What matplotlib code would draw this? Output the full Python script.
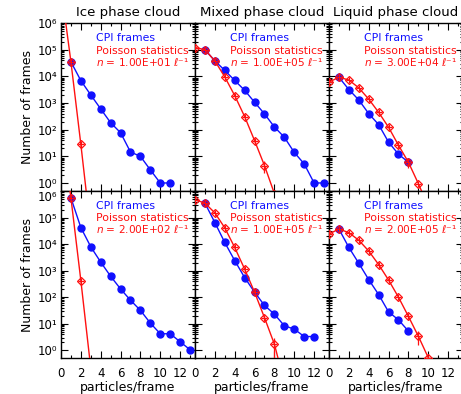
import numpy as np
import matplotlib
matplotlib.use("Agg")
import matplotlib.pyplot as plt
from matplotlib.ticker import FixedLocator, NullFormatter, FuncFormatter

# ---------------- data ----------------
titles = ["Ice phase cloud", "Mixed phase cloud", "Liquid phase cloud"]

# top row
ice_top_cpi_x = [1, 2, 3, 4, 5, 6, 7, 8, 9, 10, 11]
ice_top_cpi_y = [3.5e4, 6.9e3, 2.0e3, 600, 182, 77, 14.5, 10, 3.1, 1.0, 1.0]
ice_top_poi_x = [0, 1, 2, 3]
ice_top_poi_y = [2.2e7, 3.5e4, 28, 0.015]
ice_top_n = "1.00E+01"

mix_top_cpi_x = [1, 2, 3, 4, 5, 6, 7, 8, 9, 10, 11, 12, 13]
mix_top_cpi_y = [1.0e5, 3.8e4, 1.67e4, 7.0e3, 3.0e3, 1.07e3, 390, 126, 52, 14, 5.2, 1.0, 1.0]
mix_top_poi_x = [0, 1, 2, 3, 4, 5, 6, 7, 8]
mix_top_poi_y = [1.2e5, 1.0e5, 3.8e4, 9.5e3, 1.9e3, 310, 39, 4.5, 0.4]
mix_top_n = "1.00E+05"

liq_top_cpi_x = [1, 2, 3, 4, 5, 6, 7, 8]
liq_top_cpi_y = [9.2e3, 3.2e3, 1.3e3, 400, 155, 34, 12, 6]
liq_top_poi_x = [0, 1, 2, 3, 4, 5, 6, 7, 8, 9, 10]
liq_top_poi_y = [6.1e3, 9.2e3, 7.3e3, 3.7e3, 1.4e3, 447, 123, 26, 6, 0.95, 0.13]
liq_top_n = "3.00E+04"

# bottom row
ice_bot_cpi_x = [1, 2, 3, 4, 5, 6, 7, 8, 9, 10, 11, 12, 13]
ice_bot_cpi_y = [5.5e5, 4.2e4, 7.9e3, 2.1e3, 615, 205, 77, 32, 10.6, 4.2, 4.2, 2.1, 1.05]
ice_bot_poi_x = [0, 1, 2, 3]
ice_bot_poi_y = [3.6e8, 5.5e5, 425, 0.21]
ice_bot_n = "2.00E+02"

mix_bot_cpi_x = [1, 2, 3, 4, 5, 6, 7, 8, 9, 10, 11, 12]
mix_bot_cpi_y = [3.5e5, 6.5e4, 1.15e4, 2.4e3, 550, 155, 49, 23, 8.4, 6.3, 3.3, 3.3]
mix_bot_poi_x = [0, 1, 2, 3, 4, 5, 6, 7, 8, 9]
mix_bot_poi_y = [4.7e5, 3.5e5, 1.5e5, 4.1e4, 7.5e3, 1.15e3, 155, 17, 1.7, 0.06]
mix_bot_n = "1.00E+05"

liq_bot_cpi_x = [1, 2, 3, 4, 5, 6, 7, 8]
liq_bot_cpi_y = [3.7e4, 7.5e3, 1.9e3, 460, 126, 28, 14, 5.3]
liq_bot_poi_x = [0, 1, 2, 3, 4, 5, 6, 7, 8, 9, 10, 11]
liq_bot_poi_y = [2.4e4, 3.7e4, 2.7e4, 1.4e4, 5.5e3, 1.7e3, 445, 100, 19, 3.4, 0.53, 0.08]
liq_bot_n = "2.00E+05"

y_ticks = [1e0, 1e1, 1e2, 1e3, 1e4, 1e5, 1e6]
x_ticks = [0, 2, 4, 6, 8, 10, 12]

panels = [
    [(ice_top_cpi_x, ice_top_cpi_y, ice_top_poi_x, ice_top_poi_y, ice_top_n),
     (mix_top_cpi_x, mix_top_cpi_y, mix_top_poi_x, mix_top_poi_y, mix_top_n),
     (liq_top_cpi_x, liq_top_cpi_y, liq_top_poi_x, liq_top_poi_y, liq_top_n)],
    [(ice_bot_cpi_x, ice_bot_cpi_y, ice_bot_poi_x, ice_bot_poi_y, ice_bot_n),
     (mix_bot_cpi_x, mix_bot_cpi_y, mix_bot_poi_x, mix_bot_poi_y, mix_bot_n),
     (liq_bot_cpi_x, liq_bot_cpi_y, liq_bot_poi_x, liq_bot_poi_y, liq_bot_n)],
]

BLUE = "#1010ff"
RED = "#ff1010"

SUP = str.maketrans("-0123456789", "⁻⁰¹²³⁴⁵⁶⁷⁸⁹")


def log_fmt(v, pos):
    e = int(round(np.log10(v)))
    return "10" + str(e).translate(SUP)


minor_y = [m * 10.0 ** d for d in range(0, 6) for m in range(2, 10)]

W, H = 461, 394
fig = plt.figure(figsize=(W / 100, H / 100), dpi=100)

col_left = [61, 195, 329]
col_w = 134
row_top = [23, 191]
row_h = [168, 167.3]

for r in range(2):
    for c in range(3):
        cx, cy, px, py, nstr = panels[r][c]
        left = col_left[c] / W
        bottom = 1 - (row_top[r] + row_h[r]) / H
        ax = fig.add_axes([left, bottom, col_w / W, row_h[r] / H])
        ax.set_yscale("log")
        ax.set_xlim(0, 13.5)
        ax.set_ylim(0.5, 1e6)

        ax.plot(cx, cy, "-o", color=BLUE, lw=1.0, ms=5, mec=BLUE, mfc=BLUE,
                zorder=3)
        px_a = np.array(px, float)
        py_a = np.array(py, float)
        ax.plot(px_a, py_a, "-", color=RED, lw=1.0, zorder=4)
        err = np.where(py_a >= 1.0, np.sqrt(py_a), 0.0)
        low = np.minimum(err, py_a * 0.999)
        ax.errorbar(px_a, py_a, yerr=[low, err], fmt="none", ecolor=RED,
                    elinewidth=0.9, capsize=0, zorder=4)
        ax.plot(px_a, py_a, "D", color=RED, ms=4.3, mfc="none", mew=0.9, zorder=5)
        ax.plot(px_a, py_a, "+", color=RED, ms=4.3, mew=0.8, zorder=5)

        ax.text(0.262, 0.912, "CPI frames", transform=ax.transAxes, color=BLUE,
                fontsize=7.8, va="center", ha="left")
        ax.text(0.262, 0.836, "Poisson statistics", transform=ax.transAxes,
                color=RED, fontsize=7.8, va="center", ha="left")
        ax.text(0.262, 0.770, r"$\mathit{n}$ = " + nstr + " ℓ⁻¹",
                transform=ax.transAxes, color=RED, fontsize=7.6,
                va="center", ha="left")

        ax.xaxis.set_major_locator(FixedLocator(x_ticks))
        ax.xaxis.set_minor_locator(FixedLocator(list(range(1, 14))))
        ax.yaxis.set_major_locator(FixedLocator(y_ticks))
        ax.yaxis.set_major_formatter(FuncFormatter(log_fmt))
        ax.yaxis.set_minor_locator(FixedLocator(minor_y))
        ax.yaxis.set_minor_formatter(NullFormatter())
        ax.xaxis.set_minor_formatter(NullFormatter())
        ax.tick_params(which="both", direction="in", top=True, right=True,
                       width=0.8, labelsize=8.5)
        ax.tick_params(which="major", length=5)
        ax.tick_params(which="minor", length=2.5)
        ax.tick_params(axis="x", pad=6)
        ax.tick_params(axis="y", pad=2.5)
        for s in ax.spines.values():
            s.set_linewidth(1.0)

        if c != 0:
            ax.tick_params(labelleft=False)
        else:
            ax.set_ylabel("Number of frames", fontsize=9, labelpad=3)
            if r == 1:
                fig.canvas.draw()
                ax.get_yticklabels()[-1].set_va("top")
        if r == 0:
            ax.tick_params(labelbottom=False)
            ax.set_title(titles[c], fontsize=9.5, pad=5)
        else:
            ax.set_xlabel("particles/frame", fontsize=9, labelpad=1)

fig.savefig("out.png", dpi=100)
